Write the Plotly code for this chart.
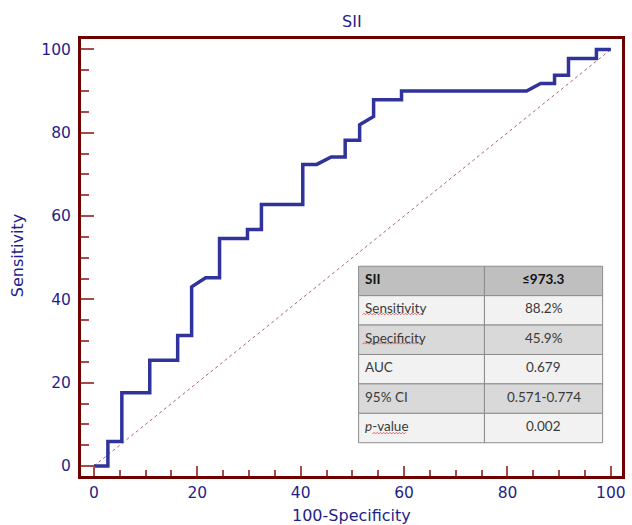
import plotly.graph_objects as go

# ROC curve points (100-Specificity, Sensitivity)
fpr = [0, 2.7, 2.7, 5.4, 5.4, 10.8, 10.8, 16.2, 16.2, 18.9, 18.9, 21.6, 24.3, 24.3,
       29.7, 29.7, 32.4, 32.4, 40.4, 40.4, 43.1, 45.9, 48.6, 48.6, 51.4, 51.4, 54.1,
       54.1, 59.5, 59.5, 83.7, 86.4, 89.1, 89.1, 91.8, 91.8, 97.2, 97.2, 100]
tpr = [0, 0, 5.9, 5.9, 17.6, 17.6, 25.4, 25.4, 31.3, 31.3, 43.0, 45.2, 45.2, 54.6,
       54.6, 56.8, 56.8, 62.8, 62.8, 72.4, 72.4, 74.2, 74.2, 78.2, 78.2, 81.9, 83.9,
       87.9, 87.9, 90.0, 90.0, 91.8, 91.8, 93.8, 93.8, 97.8, 97.8, 100, 100]
diag_x = [0, 100]
diag_y = [0, 100]

table_header = ["SII", "≤973.3"]
table_labels = ["Sensitivity", "Specificity", "AUC", "95% CI", "<i>p</i>-value"]
table_values = ["88.2%", "45.9%", "0.679", "0.571-0.774", "0.002"]

NAVY = "#1f1f8a"
FRAME = "#6e0000"
TICK = "#a84a4a"
CURVE = "#30339a"
AXFONT = "DejaVu Sans, Verdana, sans-serif"
TBLFONT = "Lato, Carlito, sans-serif"

W, H = 632, 525
ML, MR, MT, MB = 80.5, 6.8, 38.5, 49
PW, PH = W - ML - MR, H - MT - MB


def px_x(px):
    return (px - ML) / PW


def px_y(py):
    return (H - MB - py) / PH


fig = go.Figure()
fig.add_trace(go.Scatter(x=diag_x, y=diag_y, mode="lines",
                         line=dict(color="#a86868", width=1, dash="dot"),
                         showlegend=False, hoverinfo="skip"))
fig.add_trace(go.Scatter(x=fpr, y=tpr, mode="lines",
                         line=dict(color=CURVE, width=3.5),
                         showlegend=False))

# ---- inset table drawn with shapes + annotations ----
tx0, tx1, tx2 = 360, 486.7, 605.7
ty0, rowh = 266, 29.45
fills = ["#bfbfbf", "#f2f2f2", "#d9d9d9", "#f2f2f2", "#d9d9d9", "#f2f2f2"]
shapes = []
annotations = []
rows = [table_header] + [[a, b] for a, b in zip(table_labels, table_values)]
for i, (lab, val) in enumerate(rows):
    yt = ty0 + i * rowh
    yb = yt + rowh
    for xa, xb in ((tx0, tx1), (tx1, tx2)):
        shapes.append(dict(type="rect", xref="paper", yref="paper",
                           x0=px_x(xa), x1=px_x(xb), y0=px_y(yb), y1=px_y(yt),
                           fillcolor=fills[i], line=dict(color="#8c8c8c", width=1),
                           layer="above"))
    bold = i == 0
    col = "#111111" if bold else "#3a3a3a"
    ymid = px_y(yt + rowh / 2 - 2)
    annotations.append(dict(xref="paper", yref="paper", x=px_x(tx0 + 4), y=ymid,
                            xanchor="left", yanchor="middle", showarrow=False,
                            text=f"<b>{lab}</b>" if bold else lab,
                            font=dict(family=TBLFONT, size=13.5, color=col)))
    annotations.append(dict(xref="paper", yref="paper", x=px_x((tx1 + tx2) / 2), y=ymid,
                            xanchor="center", yanchor="middle", showarrow=False,
                            text=f"<b>{val}</b>" if bold else val,
                            font=dict(family=TBLFONT, size=13.5, color=col)))


def squiggle(xa, xb, yline):
    pts = []
    x = xa
    k = 0
    while x <= xb:
        yy = yline + (0.8 if k % 2 == 0 else -0.8)
        pts.append(f"{px_x(x):.5f},{px_y(yy):.5f}")
        x += 1.6
        k += 1
    return "M " + " L ".join(pts)


for xa, xb, yl in ((364, 426, 313.8), (364, 426, 343.2), (374, 409, 431.6 + 1.5)):
    shapes.append(dict(type="path", xref="paper", yref="paper", path=squiggle(xa, xb, yl),
                       line=dict(color="#e04040", width=0.8), layer="above"))

# axis titles and chart title
annotations.append(dict(xref="paper", yref="paper", x=px_x(353), y=px_y(516),
                        xanchor="center", yanchor="middle", showarrow=False,
                        text="100-Specificity", font=dict(family=AXFONT, size=16, color=NAVY)))
annotations.append(dict(xref="paper", yref="paper", x=px_x(16), y=px_y(255),
                        xanchor="center", yanchor="middle", showarrow=False, textangle=-90,
                        text="Sensitivity", font=dict(family=AXFONT, size=16, color=NAVY)))
annotations.append(dict(xref="paper", yref="paper", x=px_x(353), y=px_y(20.5),
                        xanchor="center", yanchor="middle", showarrow=False,
                        text="SII", font=dict(family=AXFONT, size=16, color=NAVY)))

axis_common = dict(
    showline=True, linecolor=FRAME, linewidth=3, mirror=True,
    showgrid=False, zeroline=False,
    ticks="inside", tickcolor=TICK, tickwidth=1.5,
    tick0=0, dtick=20,
    tickfont=dict(family=AXFONT, size=15.5, color=NAVY),
)

fig.update_xaxes(**axis_common, range=[-2.5, 102.15], ticklen=10,
                 minor=dict(ticks="inside", dtick=5, tick0=0, ticklen=6,
                            tickcolor=TICK, tickwidth=1.5))
fig.update_yaxes(**axis_common, range=[-2.4, 102.5], ticklen=13, ticklabelstandoff=4,
                 minor=dict(ticks="inside", dtick=5, tick0=0, ticklen=8,
                            tickcolor=TICK, tickwidth=1.5))

fig.update_layout(
    width=W, height=H,
    margin=dict(l=ML, r=MR, t=MT, b=MB, pad=0),
    paper_bgcolor="white", plot_bgcolor="white",
    shapes=shapes, annotations=annotations,
    showlegend=False,
)

fig.write_html("out.html", config={"displayModeBar": False},
               post_script="document.body.style.margin='0px';")
